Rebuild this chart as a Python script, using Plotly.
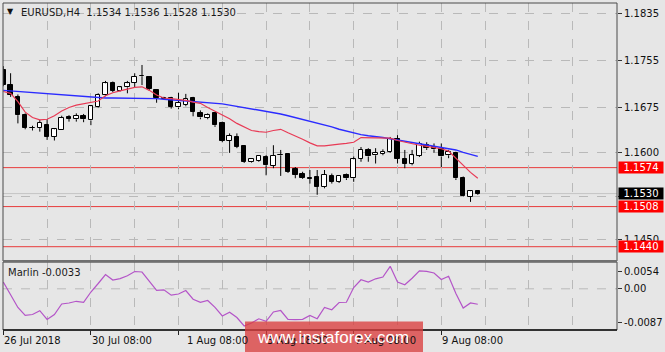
import plotly.graph_objects as go

W, H = 665, 352

# ---------------- data ----------------
opens = [1.1739, 1.1714, 1.1693, 1.1664, 1.1642, 1.1641, 1.1647, 1.1626, 1.1637, 1.1659,
         1.1656, 1.1662, 1.1654, 1.1676, 1.1697, 1.1718, 1.1704, 1.1710, 1.1718, 1.1730,
         1.1728, 1.1706, 1.1692, 1.1692, 1.1676, 1.1680, 1.1692, 1.1667, 1.1658, 1.1666,
         1.1650, 1.1620, 1.1626, 1.1611, 1.1583, 1.1586, 1.1592, 1.1577, 1.1595, 1.1597,
         1.1571, 1.1564, 1.1557, 1.1558, 1.1541, 1.1560, 1.1550, 1.1562, 1.1556, 1.1589,
         1.1604, 1.1595, 1.1597, 1.1601, 1.1622, 1.1588, 1.1580, 1.1594, 1.1612, 1.1609,
         1.1605, 1.1595, 1.1598, 1.1557, 1.1525, 1.1534]
highs = [1.1746, 1.1734, 1.1698, 1.1666, 1.1645, 1.1655, 1.1656, 1.1641, 1.1662, 1.1663,
         1.1666, 1.1665, 1.1680, 1.1700, 1.1721, 1.1720, 1.1711, 1.1721, 1.1734, 1.1748,
         1.1729, 1.1707, 1.1694, 1.1694, 1.1701, 1.1699, 1.1694, 1.1671, 1.1666, 1.1666,
         1.1652, 1.1632, 1.1632, 1.1612, 1.1590, 1.1595, 1.1595, 1.1612, 1.1604, 1.1597,
         1.1575, 1.1567, 1.1570, 1.1570, 1.1570, 1.1564, 1.1561, 1.1564, 1.1593, 1.1609,
         1.1607, 1.1607, 1.1605, 1.1626, 1.1629, 1.1604, 1.1604, 1.1618, 1.1617, 1.1615,
         1.1615, 1.1604, 1.1601, 1.1559, 1.1536, 1.1536]
lows = [1.1712, 1.1694, 1.1649, 1.1639, 1.1637, 1.1635, 1.1621, 1.1620, 1.1637, 1.1652,
        1.1652, 1.1651, 1.1646, 1.1675, 1.1695, 1.1702, 1.1703, 1.1700, 1.1710, 1.1714,
        1.1704, 1.1684, 1.1689, 1.1674, 1.1673, 1.1678, 1.1661, 1.1656, 1.1656, 1.1643,
        1.1617, 1.1599, 1.1607, 1.1582, 1.1582, 1.1584, 1.1561, 1.1573, 1.1560, 1.1565,
        1.1556, 1.1555, 1.1547, 1.1528, 1.1539, 1.1547, 1.1548, 1.1553, 1.1550, 1.1584,
        1.1584, 1.1581, 1.1595, 1.1599, 1.1581, 1.1573, 1.1578, 1.1592, 1.1604, 1.1599,
        1.1575, 1.1590, 1.1553, 1.1525, 1.1516, 1.1528]
closes = [1.1714, 1.1697, 1.1663, 1.1642, 1.1641, 1.1650, 1.1626, 1.1639, 1.1658, 1.1657,
          1.1662, 1.1656, 1.1678, 1.1697, 1.1717, 1.1704, 1.1710, 1.1717, 1.1728, 1.1729,
          1.1707, 1.1692, 1.1691, 1.1677, 1.1684, 1.1690, 1.1669, 1.1659, 1.1663, 1.1646,
          1.1620, 1.1628, 1.1609, 1.1584, 1.1589, 1.1594, 1.1578, 1.1594, 1.1596, 1.1567,
          1.1562, 1.1557, 1.1555, 1.1542, 1.1562, 1.1550, 1.1560, 1.1556, 1.1588, 1.1604,
          1.1593, 1.1599, 1.1601, 1.1622, 1.1589, 1.1581, 1.1595, 1.1614, 1.1607, 1.1605,
          1.1593, 1.1601, 1.1556, 1.1526, 1.1534, 1.1530]

ma_slow = [1.1705, 1.1704, 1.1703, 1.1703, 1.1702, 1.1701, 1.1700, 1.1699, 1.1698, 1.1697,
           1.1696, 1.1695, 1.1694, 1.1693, 1.1692, 1.1692, 1.1692, 1.1691, 1.1691, 1.1691,
           1.1691, 1.1691, 1.1690, 1.1689, 1.1688, 1.1687, 1.1687, 1.1686, 1.1685, 1.1684,
           1.1682, 1.1680, 1.1678, 1.1676, 1.1674, 1.1672, 1.1670, 1.1667, 1.1665, 1.1662,
           1.1659, 1.1656, 1.1653, 1.1650, 1.1646, 1.1643, 1.1639, 1.1636, 1.1632, 1.1630,
           1.1628, 1.1627, 1.1625, 1.1623, 1.1621, 1.1619, 1.1617, 1.1615, 1.1613, 1.1611,
           1.1609, 1.1607, 1.1604, 1.1600, 1.1597, 1.1593]
ma_fast = [1.1703, 1.1700, 1.1686, 1.1668, 1.1659, 1.1655, 1.1656, 1.1662, 1.1670, 1.1676,
           1.1680, 1.1682, 1.1684, 1.1687, 1.1696, 1.1701, 1.1704, 1.1707, 1.1710, 1.1711,
           1.1705, 1.1697, 1.1692, 1.1691, 1.1690, 1.1688, 1.1685, 1.1683, 1.1676, 1.1670,
           1.1664, 1.1657, 1.1649, 1.1643, 1.1637, 1.1635, 1.1634, 1.1637, 1.1639, 1.1633,
           1.1628, 1.1622, 1.1616, 1.1611, 1.1611, 1.1613, 1.1614, 1.1615, 1.1617, 1.1625,
           1.1625, 1.1625, 1.1625, 1.1624, 1.1620, 1.1617, 1.1614, 1.1612, 1.1610, 1.1608,
           1.1606, 1.1602, 1.1590, 1.1577, 1.1566, 1.1556]
marlin = [0.00144, -0.00131, -0.00395, -0.00560, -0.00543, -0.00463, -0.00649, -0.00543,
          -0.00321, -0.00300, -0.00264, -0.00285, -0.00068, 0.00112, 0.00302, 0.00186,
          0.00214, 0.00275, 0.00366, 0.00355, 0.00159, -0.00032, -0.00021, -0.00135,
          -0.00110, -0.00036, -0.00220, -0.00285, -0.00247, -0.00391, -0.00575, -0.00495,
          -0.00607, -0.00786, -0.00723, -0.00634, -0.00687, -0.00490, -0.00459, -0.00649,
          -0.00653, -0.00645, -0.00564, -0.00632, -0.00395, -0.00442, -0.00290, -0.00285,
          0.00027, 0.00192, 0.00144, 0.00211, 0.00249, 0.00476, 0.00144, 0.00087,
          0.00224, 0.00381, 0.00370, 0.00334, 0.00197, 0.00264, -0.00099, -0.00406,
          -0.00300, -0.00326]

time_labels = ["26 Jul 2018", "30 Jul 08:00", "1 Aug 08:00", "3 Aug 08:00", "7 Aug 08:00", "9 Aug 08:00"]
time_label_bars = [0, 12, 24, 36, 48, 60]

price_tick_vals = [1.18356, 1.17553, 1.16756, 1.15993, 1.15251, 1.14525]
price_tick_text = ["1.1835", "1.1755", "1.1675", "1.1600", "", "1.1450"]
level_lines = [1.1574, 1.1508, 1.1440]
level_text = ["1.1574", "1.1508", "1.1440"]
bid_price = 1.1530
bid_text = "1.1530"

marlin_tick_vals = [0.003763, 0.0, -0.007167]
marlin_tick_text = ["0.0054", "0.00", "-0.0087"]

title_text = "EURUSD,H4\u00a0\u00a01.1534 1.1536 1.1528 1.1530"
marlin_label = "Marlin -0.0033"
watermark = "www.instaforex.com"

# ---------------- geometry helpers ----------------
def px(x):
    return x / W

def py(y):
    return 1 - y / H

X_L, X_R = 3, 617
MAIN_T, MAIN_B = 3, 261
IND_T, IND_B = 262, 330
bar_step = 7.3
x0_idx = -0.3 / bar_step
x_range = [x0_idx, x0_idx + (X_R - X_L) / bar_step]
main_range = [1.141576, 1.185305]
ind_range = [-0.00871, 0.005666]

BG = "#e6e6e6"
GRID = "#b9b9b9"
FONT = "DejaVu Sans"

n = len(opens)
idx = list(range(n))

fig = go.Figure()

# candle wicks (upper and lower parts, so they do not cross white bodies)
wx, wy = [], []
for i in idx:
    top = max(opens[i], closes[i])
    bot = min(opens[i], closes[i])
    wx += [i, i, None, i, i, None]
    wy += [top, highs[i], None, bot, lows[i], None]
fig.add_trace(go.Scatter(x=wx, y=wy, mode="lines", line=dict(color="black", width=1),
                         xaxis="x", yaxis="y", hoverinfo="skip"))

for is_bull, fill in [(True, "white"), (False, "black")]:
    sel = [i for i in idx if (closes[i] >= opens[i]) == is_bull]
    fig.add_trace(go.Bar(
        x=sel,
        y=[max(abs(closes[i] - opens[i]), 0.00001) for i in sel],
        base=[min(opens[i], closes[i]) for i in sel],
        width=0.62,
        marker=dict(color=fill, line=dict(color="black", width=1)),
        xaxis="x", yaxis="y", hoverinfo="skip"))

fig.add_trace(go.Scatter(x=idx, y=ma_slow, mode="lines",
                         line=dict(color="#2b2bff", width=1.4), xaxis="x", yaxis="y"))
fig.add_trace(go.Scatter(x=idx, y=ma_fast, mode="lines",
                         line=dict(color="#e83a55", width=1.2), xaxis="x", yaxis="y"))

fig.add_trace(go.Scatter(x=idx, y=marlin, mode="lines",
                         line=dict(color="#b455c8", width=1.2), xaxis="x2", yaxis="y2"))

shapes = []
# level lines
for lv in level_lines:
    shapes.append(dict(type="line", xref="paper", yref="y", x0=px(X_L), x1=px(X_R),
                       y0=lv, y1=lv, line=dict(color="#e83c3c", width=1), layer="below"))
shapes.append(dict(type="line", xref="paper", yref="y", x0=px(X_L), x1=px(X_R),
                   y0=bid_price, y1=bid_price, line=dict(color="#c4c4c4", width=1), layer="below"))
# zero level in indicator
shapes.append(dict(type="line", xref="paper", yref="y2", x0=px(X_L), x1=px(X_R),
                   y0=0, y1=0, line=dict(color=GRID, width=1, dash="dash"), layer="below"))
# borders
shapes.append(dict(type="rect", xref="paper", yref="paper", x0=px(X_L), x1=px(X_R),
                   y0=py(MAIN_B), y1=py(MAIN_T), line=dict(color="#4a4a4a", width=1)))
shapes.append(dict(type="rect", xref="paper", yref="paper", x0=px(X_L), x1=px(X_R),
                   y0=py(IND_B), y1=py(IND_T), line=dict(color="#4a4a4a", width=1)))
shapes.append(dict(type="line", xref="paper", yref="paper", x0=px(X_L), x1=px(X_R),
                   y0=py(261.3), y1=py(261.3), line=dict(color="#707070", width=2.5)))
shapes.append(dict(type="line", xref="paper", yref="paper", x0=px(X_L), x1=px(X_R),
                   y0=py(IND_B), y1=py(IND_B), line=dict(color="#111111", width=1.3)))
# watermark box
shapes.append(dict(type="rect", xref="paper", yref="paper", x0=px(245), x1=px(423),
                   y0=py(352), y1=py(321.5), fillcolor="rgba(218,62,62,0.78)",
                   line=dict(width=0), layer="above"))

ann = []
ann.append(dict(text="\u25bc", x=px(5), y=py(12), xref="paper", yref="paper",
                xanchor="left", yanchor="middle", showarrow=False,
                font=dict(family=FONT, size=8, color="#111111")))
ann.append(dict(text=title_text, x=px(19), y=py(12.3), xref="paper", yref="paper",
                xanchor="left", yanchor="middle", showarrow=False,
                font=dict(family=FONT, size=10, color="#1a1a1a")))
ann.append(dict(text=marlin_label, x=px(6), y=py(272), xref="paper", yref="paper",
                xanchor="left", yanchor="middle", showarrow=False,
                font=dict(family=FONT, size=10, color="#1a1a1a")))
for lab, b in zip(time_labels, time_label_bars):
    ann.append(dict(text=lab, x=b, y=py(340), xref="x2", yref="paper",
                    xanchor="left", yanchor="middle", showarrow=False,
                    xshift=(6 if lab.startswith("1 ") else -1),
                    font=dict(family=FONT, size=10, color="#111111")))
for lv, t in zip(level_lines, level_text):
    ann.append(dict(text=t, x=px(618), y=lv, xref="paper", yref="y",
                    xanchor="left", yanchor="middle", showarrow=False,
                    bgcolor="#ff0000", width=44, height=11, borderpad=0, align="center",
                    font=dict(family=FONT, size=10, color="white")))
ann.append(dict(text=bid_text, x=px(618), y=bid_price, xref="paper", yref="y",
                xanchor="left", yanchor="middle", showarrow=False,
                bgcolor="#000000", width=44, height=11, borderpad=0, align="center",
                font=dict(family=FONT, size=10, color="white")))
ann.append(dict(text=watermark, x=px(333), y=py(337.5), xref="paper", yref="paper",
                xanchor="center", yanchor="middle", showarrow=False,
                font=dict(family="Liberation Sans", size=17, color="white")))

fig.update_layout(
    width=W, height=H,
    margin=dict(l=0, r=0, t=0, b=0),
    paper_bgcolor=BG, plot_bgcolor=BG,
    showlegend=False, barmode="overlay", bargap=0,
    font=dict(family=FONT, size=10, color="#111111"),
    shapes=shapes, annotations=ann,
    xaxis=dict(domain=[px(X_L), px(X_R)], range=x_range, anchor="y",
               showticklabels=False, ticks="", showgrid=True, gridcolor=GRID,
               griddash="dash", tick0=0, dtick=6, zeroline=False, showline=False),
    yaxis=dict(domain=[py(MAIN_B), py(MAIN_T)], range=main_range, anchor="x",
               side="right", tickvals=price_tick_vals, ticktext=price_tick_text,
               ticks="outside", ticklen=4, tickcolor="#333333", showgrid=True,
               gridcolor=GRID, griddash="dash", zeroline=False, showline=False,
               tickfont=dict(family=FONT, size=10, color="#111111")),
    xaxis2=dict(domain=[px(X_L), px(X_R)], range=x_range, anchor="y2",
                showticklabels=False, tickvals=time_label_bars, ticks="outside",
                ticklen=4, tickcolor="#222222", showgrid=True, gridcolor=GRID,
                griddash="dash", zeroline=False, showline=False,
                minor=dict(tick0=0, dtick=6, showgrid=True, gridcolor=GRID,
                           griddash="dash", ticks="")),
    yaxis2=dict(domain=[py(IND_B), py(IND_T)], range=ind_range, anchor="x2",
                side="right", tickvals=marlin_tick_vals, ticktext=marlin_tick_text,
                ticks="outside", ticklen=4, tickcolor="#333333", showgrid=False,
                zeroline=False, showline=False,
                tickfont=dict(family=FONT, size=10, color="#111111")),
)

fig.write_html("out.html")
